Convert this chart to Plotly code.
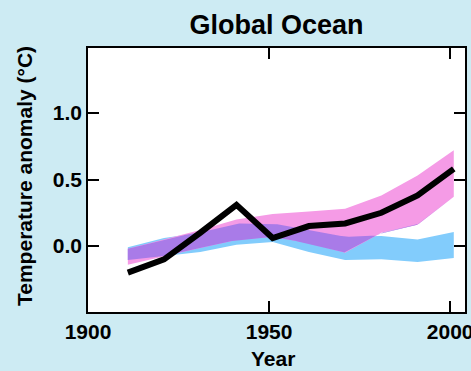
import numpy as np
import plotly.graph_objects as go

# ---- data ----
years = [1911, 1921, 1931, 1941, 1951, 1961, 1971, 1981, 1991, 2001]
observed = [-0.20, -0.10, 0.10, 0.31, 0.06, 0.15, 0.17, 0.25, 0.38, 0.58]
# natural + anthropogenic forcing (pink band)
all_lo = [-0.14, -0.08, -0.015, 0.045, 0.07, 0.02, -0.05, 0.10, 0.16, 0.37]
all_hi = [-0.02, 0.05, 0.12, 0.20, 0.24, 0.26, 0.28, 0.38, 0.53, 0.72]
# natural forcing only (blue band)
nat_lo = [-0.105, -0.075, -0.045, 0.01, 0.03, -0.045, -0.105, -0.10, -0.12, -0.09]
nat_hi = [-0.01, 0.06, 0.10, 0.17, 0.17, 0.12, 0.07, 0.075, 0.05, 0.105]

x_ticks = [1900, 1950, 2000]
x_ticktext = ["1900", "1950", "2000"]
y_ticks = [0.0, 0.5, 1.0]
y_ticktext = ["0.0", "0.5", "1.0"]

BLUE = "#82CCFC"
PINK = "#F59BE6"
PURPLE = "#A97BE8"
BG = "#CDEBF3"
FONT = "Liberation Sans, Arial, sans-serif"

fig = go.Figure()


def band(xs, lo, hi, color):
    xs = list(xs)
    fig.add_trace(go.Scatter(
        x=xs + xs[::-1], y=list(hi) + list(lo)[::-1],
        fill="toself", fillcolor=color, mode="lines",
        line=dict(width=0, color=color), hoverinfo="skip", showlegend=False))


band(years, nat_lo, nat_hi, BLUE)
band(years, all_lo, all_hi, PINK)

# overlap of the two bands (drawn in purple)
grid = np.linspace(years[0], years[-1], 721)
a_lo = np.interp(grid, years, all_lo)
a_hi = np.interp(grid, years, all_hi)
n_lo = np.interp(grid, years, nat_lo)
n_hi = np.interp(grid, years, nat_hi)
o_lo = np.maximum(a_lo, n_lo)
o_hi = np.minimum(a_hi, n_hi)
o_hi = np.maximum(o_hi, o_lo)
band(grid.tolist(), o_lo.tolist(), o_hi.tolist(), PURPLE)

fig.add_trace(go.Scatter(x=years, y=observed, mode="lines",
                         line=dict(color="black", width=6),
                         showlegend=False, hoverinfo="skip"))

axis_common = dict(
    showgrid=False, zeroline=False, showline=True, linecolor="black",
    linewidth=1.5, mirror="ticks", ticks="inside", tickcolor="black",
    tickwidth=1.5, ticklen=11, automargin=False, ticklabeloverflow="allow",
    tickfont=dict(family=FONT, size=21, color="black", weight="bold"),
)

fig.update_layout(
    width=471, height=371,
    margin=dict(l=88, r=6, t=48, b=59, autoexpand=False),
    paper_bgcolor=BG, plot_bgcolor="white",
    showlegend=False,
    title=dict(text="Global Ocean", x=0.5, xref="paper", xanchor="center",
               y=1 - 25 / 371, yref="container", yanchor="middle",
               font=dict(family=FONT, size=27, color="black", weight="bold")),
    xaxis=dict(range=[1900, 2004.1], tickvals=x_ticks, ticktext=x_ticktext,
               **axis_common),
    yaxis=dict(range=[-0.496, 1.489], tickvals=y_ticks, ticktext=y_ticktext,
               **axis_common),
)

fig.add_annotation(text="Year", xref="paper", yref="paper",
                   x=0.49, y=-(345 - 312) / 264, xanchor="center", yanchor="top",
                   showarrow=False,
                   font=dict(family=FONT, size=21, color="black", weight="bold"))
fig.add_annotation(text="Temperature anomaly (°C)", xref="paper", yref="paper",
                   x=(24 - 88) / 377, y=(312 - 176) / 264, textangle=-90,
                   xanchor="center", yanchor="middle", showarrow=False,
                   font=dict(family=FONT, size=21, color="black", weight="bold"))

fig.write_html(
    "out.html",
    config={"displayModeBar": False},
    post_script="document.body.style.margin='0';"
                "document.body.style.background='" + BG + "';"
                "document.body.style.overflow='hidden';",
)
